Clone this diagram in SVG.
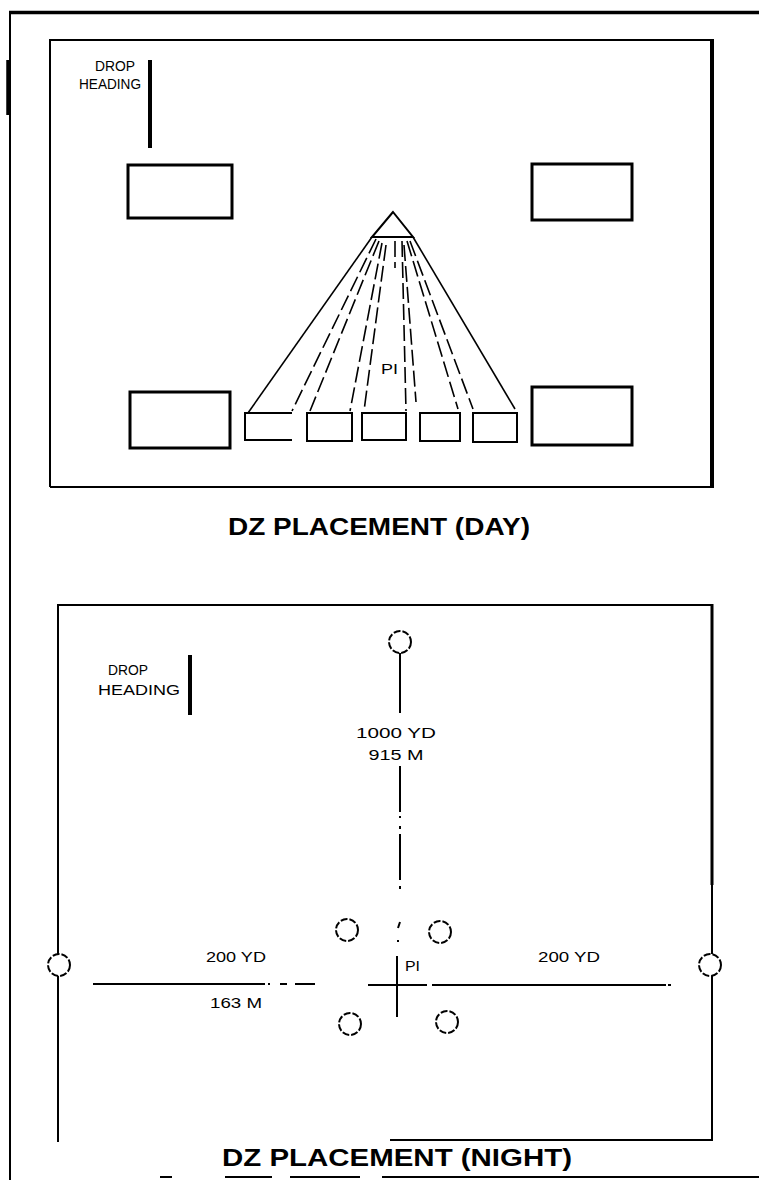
<svg xmlns="http://www.w3.org/2000/svg" width="759" height="1180" viewBox="0 0 759 1180">
<style>
.ln{stroke:#000;stroke-width:2;fill:none}
.thk{stroke:#000;stroke-width:3.5;fill:none}
.box{stroke:#000;stroke-width:3;fill:#fff}
.sbox{stroke:#000;stroke-width:2;fill:#fff}
.fan{stroke:#000;stroke-width:1.6;fill:none}
.dash{stroke:#000;stroke-width:1.6;fill:none;stroke-dasharray:16 5}
.circ{stroke:#000;stroke-width:2;fill:#fff;stroke-dasharray:7 2}
.t{font-family:"Liberation Sans",Arial,sans-serif;font-size:15px;fill:#000}
.title{font-family:"Liberation Sans",Arial,sans-serif;font-size:24px;font-weight:bold;fill:#000}
</style>
<rect width="759" height="1180" fill="#fff"/>
<g id="frame">
<line class="thk" x1="9" y1="12.5" x2="759" y2="12.5"/>
<line class="ln" x1="10" y1="12" x2="10" y2="1180"/>
<line class="thk" x1="8" y1="60" x2="8" y2="115"/>
<path class="ln" d="M160 1177H172M225 1177H272M290 1177H360M382 1177H759"/>
</g>
<g id="day">
<path class="ln" d="M50 487V40H712"/>
<line class="ln" x1="50" y1="487" x2="712" y2="487"/>
<line x1="712" y1="39" x2="712" y2="488" stroke="#000" stroke-width="4"/>
<g id="day-heading">
<text class="t" x="115" y="71" text-anchor="middle" textLength="40" lengthAdjust="spacingAndGlyphs">DROP</text>
<text class="t" x="110" y="89" text-anchor="middle" textLength="62" lengthAdjust="spacingAndGlyphs">HEADING</text>
<line x1="150" y1="60" x2="150" y2="148" stroke="#000" stroke-width="4"/>
</g>
<rect id="box-tl" class="box" x="128" y="165" width="104" height="53"/>
<rect id="box-tr" class="box" x="532" y="164" width="100" height="56"/>
<rect id="box-bl" class="box" x="130" y="392" width="100" height="56"/>
<rect id="box-br" class="box" x="532" y="387" width="100" height="58"/>
<path id="triangle" class="ln" d="M393 212L372 237H413Z"/>
<g id="fan">
<line class="fan" x1="372" y1="237" x2="248" y2="413"/>
<line class="dash" x1="376" y1="239" x2="292" y2="411"/>
<line class="dash" x1="379" y1="241" x2="310" y2="411"/>
<line class="dash" x1="382" y1="243" x2="350" y2="411"/>
<line class="dash" x1="386" y1="245" x2="364" y2="411"/>
<line class="dash" x1="395" y1="241" x2="395" y2="268"/>
<line class="dash" x1="402" y1="241" x2="406" y2="411"/>
<line class="dash" x1="404" y1="245" x2="416" y2="402"/>
<line class="dash" x1="407" y1="241" x2="458" y2="409"/>
<line class="dash" x1="410" y1="241" x2="473" y2="409"/>
<line class="fan" x1="413" y1="237" x2="515" y2="409"/>
</g>
<g id="small-boxes">
<path class="sbox" d="M292 413H245V440H292"/>
<rect class="sbox" x="307" y="413" width="45" height="28"/>
<rect class="sbox" x="362" y="413" width="44" height="27"/>
<rect class="sbox" x="420" y="413" width="40" height="28"/>
<rect class="sbox" x="473" y="413" width="44" height="29"/>
</g>
<text class="t" x="381" y="374" textLength="17" lengthAdjust="spacingAndGlyphs">PI</text>
</g>
<text id="title-day" class="title" x="379" y="535" text-anchor="middle" textLength="302" lengthAdjust="spacingAndGlyphs">DZ PLACEMENT (DAY)</text>
<g id="night">
<g id="night-frame">
<line class="ln" x1="58" y1="605" x2="712" y2="605"/>
<line class="ln" x1="58" y1="604" x2="58" y2="954"/>
<line class="ln" x1="58" y1="976" x2="58" y2="1142"/>
<line x1="712" y1="604" x2="712" y2="885" stroke="#000" stroke-width="3"/>
<line class="ln" x1="712" y1="885" x2="712" y2="954"/>
<line class="ln" x1="712" y1="976" x2="712" y2="1141"/>
<line class="ln" x1="390" y1="1140" x2="713" y2="1140"/>
</g>
<g id="night-heading">
<text class="t" x="128" y="675" text-anchor="middle" textLength="40" lengthAdjust="spacingAndGlyphs">DROP</text>
<text class="t" x="139" y="695" text-anchor="middle" textLength="82" lengthAdjust="spacingAndGlyphs">HEADING</text>
<line x1="190" y1="655" x2="190" y2="715" stroke="#000" stroke-width="4"/>
</g>
<circle id="c-top" class="circ" cx="400" cy="642" r="11"/>
<circle id="c-left" class="circ" cx="59" cy="965" r="11"/>
<circle id="c-right" class="circ" cx="710" cy="965" r="11"/>
<circle id="c-ul" class="circ" cx="347" cy="930" r="11"/>
<circle id="c-ur" class="circ" cx="440" cy="932" r="11"/>
<circle id="c-ll" class="circ" cx="350" cy="1024" r="11"/>
<circle id="c-lr" class="circ" cx="447" cy="1022" r="11"/>
<g id="night-lines">
<line class="ln" x1="400" y1="653" x2="400" y2="713"/>
<path class="ln" d="M400 766V812M400 816V818M400 826V829M400 834V880M400 886V889M398 928L400 922M398 940V942"/>
<line class="ln" x1="397" y1="956" x2="397" y2="1017"/>
<line class="ln" x1="368" y1="985" x2="427" y2="985"/>
<line class="ln" x1="93" y1="984" x2="265" y2="984"/>
<path class="ln" d="M268 984H270M280 984H287M295 984H315"/>
<line class="ln" x1="432" y1="985" x2="666" y2="985"/>
<line class="ln" x1="668" y1="985" x2="671" y2="985"/>
</g>
<text class="t" x="396" y="738" text-anchor="middle" textLength="80" lengthAdjust="spacingAndGlyphs">1000  YD</text>
<text class="t" x="396" y="760" text-anchor="middle" textLength="55" lengthAdjust="spacingAndGlyphs">915 M</text>
<text class="t" x="236" y="962" text-anchor="middle" textLength="60" lengthAdjust="spacingAndGlyphs">200 YD</text>
<text class="t" x="236" y="1008" text-anchor="middle" textLength="52" lengthAdjust="spacingAndGlyphs">163 M</text>
<text class="t" x="405" y="971" textLength="15" lengthAdjust="spacingAndGlyphs">PI</text>
<text class="t" x="569" y="962" text-anchor="middle" textLength="62" lengthAdjust="spacingAndGlyphs">200 YD</text>
</g>
<text id="title-night" class="title" x="397" y="1166" text-anchor="middle" textLength="350" lengthAdjust="spacingAndGlyphs">DZ PLACEMENT (NIGHT)</text>
</svg>
